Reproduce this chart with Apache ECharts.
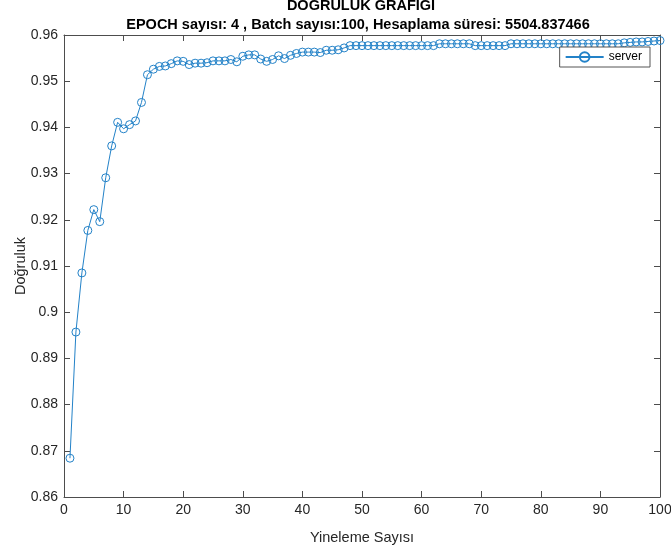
<!DOCTYPE html>
<html>
<head>
<meta charset="utf-8">
<script src="https://cdn.jsdelivr.net/npm/echarts@6/dist/echarts.min.js"></script>
<style>html,body{margin:0;padding:0;background:#fff;}#c{width:671px;height:555px;}</style>
</head>
<body>
<div id="c"></div>
<script>
const titleText = 'DOĞRULUK GRAFİĞİ';
const subtitleText = 'EPOCH sayısı: 4 , Batch sayısı:100, Hesaplama süresi: 5504.837466';
const xName = 'Yineleme Sayısı';
const yName = 'Doğruluk';
const seriesName = 'server';
const iterations = Array.from({length: 100}, (_, i) => i + 1);
const accuracy = [
  0.8684, 0.8957, 0.9085, 0.9177, 0.9222, 0.9196, 0.9291, 0.9360, 0.9411, 0.9397,
  0.9406, 0.9414, 0.9454, 0.9514, 0.9526, 0.9532, 0.9533, 0.9538, 0.9544, 0.9543,
  0.9536, 0.9539, 0.9539, 0.9540, 0.9544, 0.9544, 0.9544, 0.9547, 0.9542, 0.9554,
  0.9557, 0.9557, 0.9548, 0.9543, 0.9547, 0.9555, 0.9549, 0.9556, 0.9560, 0.9563,
  0.9563, 0.9563, 0.9562, 0.9567, 0.9567, 0.9568, 0.9572, 0.9577, 0.9577, 0.9577,
  0.9577, 0.9577, 0.9577, 0.9577, 0.9577, 0.9577, 0.9577, 0.9577, 0.9577, 0.9577,
  0.9577, 0.9577, 0.9581, 0.9581, 0.9581, 0.9581, 0.9581, 0.9581, 0.9577, 0.9577,
  0.9577, 0.9577, 0.9577, 0.9577, 0.9581, 0.9581, 0.9581, 0.9581, 0.9581, 0.9581,
  0.9581, 0.9581, 0.9581, 0.9581, 0.9581, 0.9581, 0.9581, 0.9581, 0.9581, 0.9581,
  0.9581, 0.9581, 0.9581, 0.9583, 0.9584, 0.9585, 0.9585, 0.9586, 0.9587, 0.9588
];

const font = "'Liberation Sans', Arial, Helvetica, sans-serif";
const axisColor = '#4d4d4d';
const textColor = '#262626';
const lineColor = '#2382c8';

const chart = echarts.init(document.getElementById('c'));
const baseX = {
  type: 'value', min: 0, max: 100, interval: 10,
  axisLine: {show: true, onZero: false, lineStyle: {color: axisColor, width: 1}},
  axisTick: {show: true, inside: true, length: 6, lineStyle: {color: axisColor}},
  splitLine: {show: false}
};
const baseY = {
  type: 'value', min: 0.86, max: 0.96, interval: 0.01,
  axisLine: {show: true, onZero: false, lineStyle: {color: axisColor, width: 1}},
  axisTick: {show: true, inside: true, length: 6, lineStyle: {color: axisColor}},
  splitLine: {show: false}
};
chart.setOption({
  animation: false,
  backgroundColor: '#fff',
  textStyle: {fontFamily: font},
  graphic: [
    {type: 'text', x: 361, y: 6, style: {text: titleText, font: 'bold 14.5px ' + font, fill: '#000', align: 'center', verticalAlign: 'middle'}},
    {type: 'text', x: 358, y: 25, style: {text: subtitleText, font: 'bold 14.5px ' + font, fill: '#000', align: 'center', verticalAlign: 'middle'}}
  ],
  grid: {left: 64, right: 11, top: 35, bottom: 58, containLabel: false, outerBoundsMode: 'none'},
  legend: {
    data: [seriesName], right: 21, top: 47, orient: 'vertical',
    backgroundColor: '#fff', borderColor: '#555', borderWidth: 1, borderRadius: 0,
    padding: [4, 8, 4, 5], itemWidth: 38, itemHeight: 12, itemGap: 4,
    textStyle: {fontFamily: font, fontSize: 12, color: '#000'}
  },
  xAxis: [
    Object.assign({}, baseX, {
      position: 'bottom', name: xName, nameLocation: 'middle', nameGap: 33,
      nameTextStyle: {fontFamily: font, fontSize: 14.5, color: textColor},
      axisLabel: {fontFamily: font, fontSize: 14, color: textColor, margin: 6}
    }),
    Object.assign({}, baseX, {position: 'top', axisLabel: {show: false}})
  ],
  yAxis: [
    Object.assign({}, baseY, {
      position: 'left', name: yName, nameLocation: 'middle', nameGap: 36, nameMoveOverlap: false,
      nameTextStyle: {fontFamily: font, fontSize: 14.5, color: textColor},
      axisLabel: {fontFamily: font, fontSize: 14, color: textColor, margin: 6}
    }),
    Object.assign({}, baseY, {position: 'right', axisLabel: {show: false}})
  ],
  series: [{
    name: seriesName, type: 'line', xAxisIndex: 0, yAxisIndex: 0,
    data: iterations.map((x, i) => [x, accuracy[i]]),
    symbol: 'circle', symbolSize: 8, showAllSymbol: true,
    lineStyle: {color: lineColor, width: 1},
    itemStyle: {color: 'rgba(255,255,255,0)', borderColor: lineColor, borderWidth: 1},
    emphasis: {disabled: true}
  }]
});
</script>
</body>
</html>
